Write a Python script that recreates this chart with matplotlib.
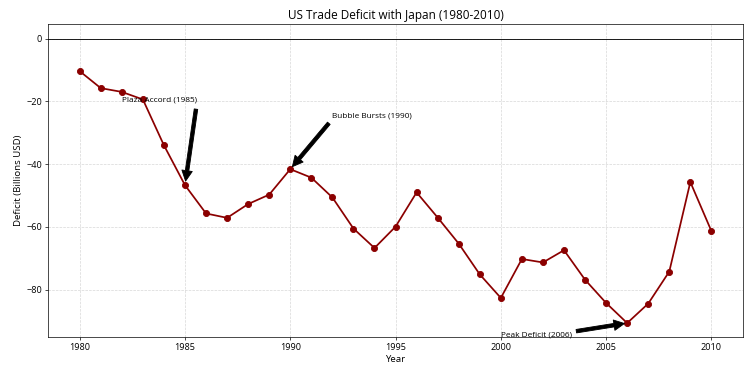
# US trade deficit with Japan, 1980-2010
import matplotlib.pyplot as plt

plt.rcParams['font.family'] = ['Open Sans', 'DejaVu Sans']

# -------------------------------
# Data
# -------------------------------
years = list(range(1980, 2011))
deficit = [-10.4, -15.8, -17.0, -19.4, -34.0, -46.7, -55.7, -57.1, -52.7, -49.7,
           -41.6, -44.3, -50.6, -60.5, -66.7, -59.9, -49.0, -57.0, -65.3, -75.1,
           -82.6, -70.2, -71.3, -67.4, -76.8, -84.2, -90.6, -84.4, -74.2, -45.7,
           -61.3]

events = [("Plaza Accord (1985)", 1985, 1982, -20),
          ("Bubble Bursts (1990)", 1990, 1992, -25),
          ("Peak Deficit (2006)", 2006, 2000, -95)]

# -------------------------------
# Plot
# -------------------------------
fig, ax = plt.subplots(figsize=(12, 6), dpi=752 / 12)
fig.subplots_adjust(left=0.064, right=0.988, top=0.936, bottom=0.104)

ax.plot(years, deficit, color='darkred', marker='o', linewidth=2, markersize=7)
ax.axhline(0, color='black', linewidth=1)

for label, yr, tx, ty in events:
    ax.annotate(label, xy=(yr, deficit[years.index(yr)]), xytext=(tx, ty),
                arrowprops=dict(facecolor='black', shrink=0.05), fontsize=9.5)

ax.set_ylim(-95, 4.6)
ax.set_title("US Trade Deficit with Japan (1980-2010)", fontsize=13.5)
ax.set_xlabel("Year", fontsize=11)
ax.set_ylabel("Deficit (Billions USD)", fontsize=11)
ax.tick_params(labelsize=10.5)
ax.grid(True, linestyle='--', alpha=0.5)

fig.savefig("out.png", dpi=752 / 12)
